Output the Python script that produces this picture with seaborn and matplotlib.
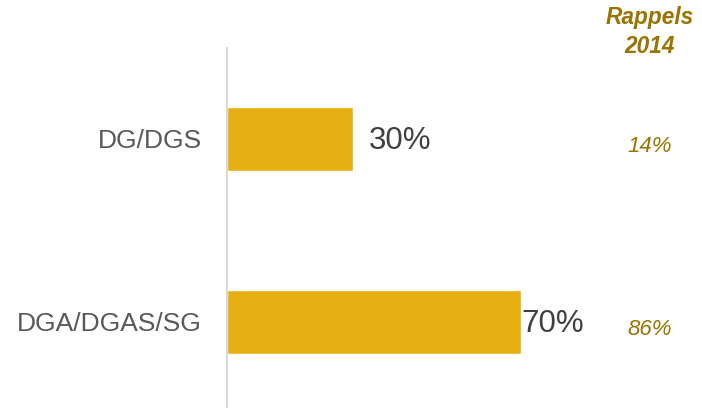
import matplotlib
matplotlib.use("Agg")
import matplotlib.pyplot as plt
import matplotlib.transforms as mtransforms
import seaborn as sns
import pandas as pd

categories = ["DG/DGS", "DGA/DGAS/SG"]
values = [30, 70]
recall_header = "Rappels\n2014"
recall_values = ["14%", "86%"]

sns.set_theme(style="white")
plt.rcParams["font.family"] = ["Liberation Sans", "DejaVu Sans"]

df = pd.DataFrame({"cat": categories, "val": values})

fig = plt.figure(figsize=(7.02, 4.08), dpi=100)
ax = fig.add_axes([227 / 702, 0.0, 1 - 227 / 702, 1 - 48 / 408])

sns.barplot(data=df, y="cat", x="val", orient="h", color="#E6B012",
            width=0.35, saturation=1, ax=ax)

ax.set_xlim(0, 113.1)
ax.set_ylim(1.470, -0.497)

for s in ["top", "right", "bottom"]:
    ax.spines[s].set_visible(False)
ax.spines["left"].set_color("#d9d9d9")
ax.spines["left"].set_linewidth(1.5)

ax.set_xlabel("")
ax.set_ylabel("")
ax.set_xticks([])
ax.tick_params(axis="y", length=0, pad=18, labelsize=19, labelcolor="#595959")

# value labels
offsets = [3.8, 0.0]
for i, v in enumerate(values):
    ax.text(v + offsets[i], i + 0.01, f"{v}%", va="center", ha="left",
            fontsize=22.5, color="#404040")

# recall column
gold = "#9A7300"
trans = mtransforms.blended_transform_factory(fig.transFigure, ax.transData)
for i, r in enumerate(recall_values):
    ax.text(650 / 702, i + 0.04, r, transform=trans, ha="center", va="center",
            fontsize=16, style="italic", color=gold)
fig.text(650 / 702, 1 - 32 / 408, recall_header, ha="center", va="center",
         fontsize=16.3, fontweight="bold", style="italic", color=gold,
         linespacing=1.3)

fig.savefig("out.png", dpi=100)
